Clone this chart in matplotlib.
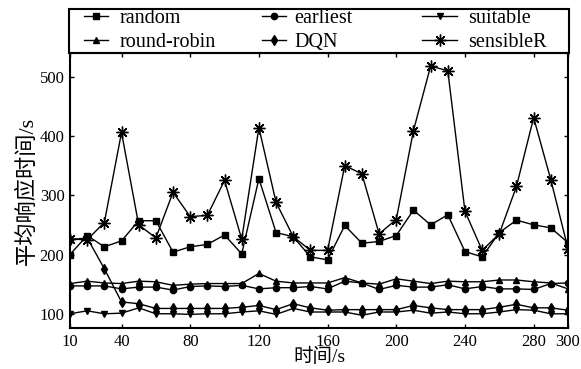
import matplotlib
matplotlib.use("Agg")
import matplotlib.pyplot as plt
from matplotlib.patches import Rectangle

plt.rcParams['font.family'] = ['Liberation Serif', 'Noto Sans CJK SC', 'DejaVu Sans']

time_s = [10, 20, 30, 40, 50, 60, 70, 80, 90, 100,
          110, 120, 130, 140, 150, 160, 170, 180, 190, 200,
          210, 220, 230, 240, 250, 260, 270, 280, 290, 300]

random_ = [200, 232, 213, 223, 257, 257, 204, 213, 217, 233,
           201, 328, 237, 230, 196, 191, 249, 219, 222, 232,
           275, 250, 267, 205, 196, 237, 258, 250, 245, 220]
earliest = [147, 147, 147, 142, 145, 145, 140, 146, 147, 146,
            148, 142, 144, 144, 146, 142, 155, 152, 141, 148,
            145, 145, 149, 142, 146, 142, 142, 141, 151, 152]
suitable = [100, 105, 100, 101, 110, 100, 100, 99, 100, 100,
            103, 105, 99, 109, 103, 103, 103, 97.5, 103, 103,
            106, 101, 103, 100, 100, 103, 107, 106, 100, 100]
round_robin = [151, 155, 152, 151, 155, 154, 148, 150, 151, 151,
               151, 168, 155, 152, 152, 152, 161, 152, 150, 159,
               155, 151, 155, 154, 154, 157, 157, 154, 152, 142]
dqn = [225, 228, 176, 120, 117, 109, 109, 109, 109, 109,
       111, 114, 107, 117, 110, 106, 107, 107, 107, 107,
       114, 110, 107, 107, 107, 111, 116, 110, 110, 106]
sensibleR = [226, 225, 254, 406, 250, 228, 305, 264, 266, 325,
             226, 414, 288, 230, 207, 207, 350, 336, 235, 259,
             409, 518, 510, 273, 207, 235, 315, 431, 326, 210]

x_ticks = [10, 40, 80, 120, 160, 200, 240, 280, 300]
y_ticks = [100, 200, 300, 400, 500]

W, H = 581, 369
fig = plt.figure(figsize=(W/100, H/100), dpi=100)
ax = fig.add_axes([70/W, 1-328/H, (568-70)/W, (328-53)/H])

lw = 1.0
ms = 4.5
series = [
    ("random", random_, dict(marker='s', ms=ms)),
    ("round-robin", round_robin, dict(marker='^', ms=ms)),
    ("earliest", earliest, dict(marker='o', ms=ms)),
    ("DQN", dqn, dict(marker='d', ms=ms+0.5)),
    ("suitable", suitable, dict(marker='v', ms=ms)),
    ("sensibleR", sensibleR, dict(marker=(8, 2, 0), ms=8.5, mew=1.0)),
]
handles = []
for label, vals, kw in series:
    h, = ax.plot(time_s, vals, color='black', lw=lw, label=label,
                 markerfacecolor='black', markeredgecolor='black', **kw)
    handles.append(h)

ax.set_xlim(10, 300)
ax.set_ylim(76, 540)
ax.set_xticks(x_ticks)
ax.set_yticks(y_ticks)
ax.tick_params(direction='in', top=True, right=True, length=3, width=1,
               labelsize=12, pad=4)
for s in ax.spines.values():
    s.set_linewidth(1.5)

ax.set_xlabel("时间/s", fontsize=14, labelpad=-1)
ax.set_ylabel("平均响应时间/s", fontsize=16, labelpad=1)

# legend box spanning the axes width above the plot
fig.patches.append(Rectangle((69/W, 1-53/H), (569-69)/W, (53-9)/H,
                             transform=fig.transFigure, fill=False,
                             edgecolor='black', lw=1.5))

col_specs = [(84, 1.2, 0.55), (262, 1.2, 0.4), (422, 1.75, 0.55)]
for c, (x0, hl, tp) in enumerate(col_specs):
    fig.legend(handles=handles[2*c:2*c+2], loc='upper left',
               bbox_to_anchor=(x0/W, 1-9/H), bbox_transform=fig.transFigure,
               frameon=False, fontsize=14.5, handlelength=hl,
               handletextpad=tp, labelspacing=0.25, borderpad=0,
               borderaxespad=0)

fig.savefig("out.png", dpi=100)
